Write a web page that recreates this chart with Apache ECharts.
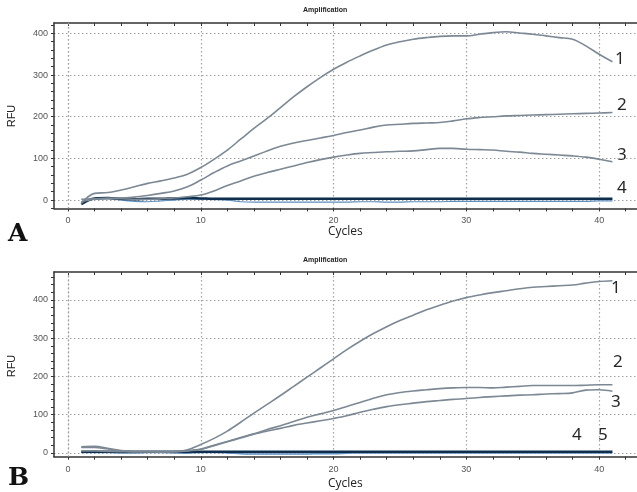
<!DOCTYPE html>
<html><head><meta charset="utf-8">
<script src="https://cdn.jsdelivr.net/npm/echarts@6/dist/echarts.min.js"></script>
<style>html,body{margin:0;padding:0;background:#fff}#c{width:637px;height:492px}</style>
</head><body><div id="c"></div>
<script>
// ---------- data ----------
const cycles = [1,2,3,4,5,6,7,8,9,10,11,12,13,14,15,16,17,18,19,20,21,22,23,24,25,26,27,28,29,30,31,32,33,34,35,36,37,38,39,40,41];

const A1 = [-8,16,18,24,32,40,46,53,62,78,98,120,146,172,196,222,248,272,294,314,331,346,360,372,380,386,390,393,394,394,398,402,404,401,398,394,390,386,370,350,332];
const A2 = [-4,2,4,5,7,11,16,22,32,48,66,82,94,106,118,129,137,143,149,155,162,168,175,180,182,184,185,186,190,195,198,200,202,203,204,205,206,207,208,209,210];
const A3 = [2,3,4,3,2,2,3,5,8,12,22,35,46,57,66,74,82,90,97,103,108,112,114,116,117,118,121,124,124,122,121,120,117,115,112,110,108,106,103,98,92];
const A4 = [-10,4,5,3,2,3,3,4,5,4,3,3,3,3,3,3,3,3,3,3,3,3,3,3,3,3,3,3,3,3,3,3,3,3,3,3,3,3,3,3,3];
const A4b = [-4,2,4,0,-3,-4,-2,0,2,2,1,0,-4,-5,-5,-5,-5,-5,-5,-5,-5,-4,-4,-5,-5,-4,-4,-4,-3,-3,-3,-3,-3,-3,-3,-3,-3,-3,-3,-2,-2];

const B1 = [14,14,10,5,3,3,3,3,8,22,38,57,80,104,127,150,174,198,222,246,270,292,312,330,346,360,374,386,397,406,413,419,424,429,433,435,437,439,444,448,450];
const B2 = [5,5,4,3,3,3,3,3,6,10,20,30,40,50,61,71,82,93,102,111,121,132,143,152,158,162,165,168,170,171,171,170,172,174,176,176,176,176,177,178,178];
const B3 = [16,17,12,6,3,3,2,3,5,9,19,29,39,49,57,64,72,78,84,90,97,106,114,121,126,130,134,137,140,142,145,147,149,151,152,154,155,157,164,165,161];
const B4 = [3,3,3,3,3,3,3,3,3,3,3,3,3,3,3,3,3,3,3,3,3,3,3,3,3,3,3,3,3,3,3,3,3,3,3,3,3,3,3,3,3];
const B5 = [1,1,1,0,0,1,1,0,-1,1,1,0,-2,-3,-3,-3,-3,-3,-2,-2,-1,0,0,0,0,0,0,0,0,0,0,0,0,0,0,0,0,0,0,0,0,0];

const xLabels = [0,10,20,30,40];
const xMinorTicks = [0,2,4,6,8,10,12,14,16,18,20,22,24,26,28,30,32,34,36,38,40,42];
const yLabelsA = [0,100,200,300,400];
const yLabelsB = [0,100,200,300,400];
const yTicksA = [-20,0,20,40,60,80,100,120,140,160,180,200,220,240,260,280,300,320,340,360,380,400,420];
const yTicksB = [0,20,40,60,80,100,120,140,160,180,200,220,240,260,280,300,320,340,360,380,400,420,440,460];
const title = 'Amplification';
const xName = 'Cycles';
const yName = 'RFU';
const seriesLabelsA = ['1','2','3','4'];
const seriesLabelsB = ['1','2','3','4','5'];

// ---------- styling ----------
const curveColor = '#7c8894';
const navy = '#0f2d4d';
const lightBlue = '#5f8fbf';
const gridColor = '#a3a3a3';
const axisColor = '#333';
const tickFont = {fontFamily:'Liberation Sans', fontSize:9, color:'#555'};

const grids = [
  {left:54, top:23, width:583, height:185.4},
  {left:54, top:272, width:583, height:184.7}
];
const xRange = [-1.054, 42.85];
const yRanges = [[-20,425],[-10,473]];
const gridLineStyle = {color:gridColor, type:[1.5,2.5], width:1.2};

const xAxis = [], yAxis = [];
grids.forEach((g, gi) => {
  xAxis.push({type:'value', gridIndex:gi, min:xRange[0], max:xRange[1], position:'bottom',
    axisLine:{show:true, onZero:false, lineStyle:{color:axisColor, width:1.5}},
    axisTick:{show:true, length:3, customValues:xMinorTicks, lineStyle:{color:axisColor}},
    axisLabel:{show:true, customValues:xLabels, margin:8, ...tickFont},
    splitLine:{show:false}});
  xAxis.push({type:'value', gridIndex:gi, min:xRange[0], max:xRange[1], position:'top',
    axisLine:{show:true, onZero:false, lineStyle:{color:axisColor, width:1.5}},
    axisTick:{show:true, inside:true, length:3, customValues:xMinorTicks, lineStyle:{color:axisColor}},
    axisLabel:{show:false}, splitLine:{show:false}});
  xAxis.push({type:'value', gridIndex:gi, min:xRange[0], max:xRange[1], position:'bottom', offset:0,
    axisLine:{show:false}, axisTick:{show:false, customValues:xLabels}, axisLabel:{show:false},
    splitLine:{show:true, showMinLine:true, showMaxLine:true, lineStyle:gridLineStyle}});
  const yl = gi===0 ? yLabelsA : yLabelsB;
  const yt = gi===0 ? yTicksA : yTicksB;
  yAxis.push({type:'value', gridIndex:gi, min:yRanges[gi][0], max:yRanges[gi][1], position:'left',
    axisLine:{show:true, onZero:false, lineStyle:{color:axisColor, width:1.5}},
    axisTick:{show:true, length:3, customValues:yt, lineStyle:{color:axisColor}},
    axisLabel:{show:true, customValues:yl, margin:6, ...tickFont},
    splitLine:{show:false}});
  yAxis.push({type:'value', gridIndex:gi, min:yRanges[gi][0], max:yRanges[gi][1], position:'left',
    axisLine:{show:false}, axisTick:{show:false, customValues:yl}, axisLabel:{show:false},
    splitLine:{show:true, showMinLine:true, showMaxLine:true, lineStyle:gridLineStyle}});
});

function mk(vals, gi, color, width, z) {
  return {type:'line', xAxisIndex:gi*3, yAxisIndex:gi*2, data:cycles.map((c,i)=>[c, vals[i]]),
    showSymbol:false, smooth:0.35, lineStyle:{color:color, width:width}, z:z||2, silent:true};
}
// vertical grid line at cycle 0 (drawn via the axis scale)
const zeroLine = {silent:true, symbol:'none', label:{show:false}, lineStyle:gridLineStyle,
  data:[{xAxis:xLabels[0]}], animation:false};

const s0 = mk(A4b, 0, lightBlue, 1.2, 2); s0.markLine = zeroLine;
const s5 = mk(B5, 1, lightBlue, 1.5, 2); s5.markLine = zeroLine;
const series = [
  s0, mk(A4, 0, navy, 2.5, 3),
  mk(A1, 0, curveColor, 1.6, 4), mk(A2, 0, curveColor, 1.6, 4), mk(A3, 0, curveColor, 1.6, 4),
  s5, mk(B4, 1, navy, 2.6, 3),
  mk(B1, 1, curveColor, 1.6, 4), mk(B2, 1, curveColor, 1.6, 4), mk(B3, 1, curveColor, 1.6, 4)
];

function txt(x, y, s, opts) {
  return {type:'text', left:x, top:y, style:Object.assign({text:s, fill:'#262626',
    font:'17px "Noto Sans"'}, opts||{})};
}
const labelPosA = [[615,51],[617,97],[617,147],[617,180]];
const labelPosB = [[611,280],[613,354],[611,394],[572,427],[598,427]];
const graphic = [];
seriesLabelsA.forEach((s,i)=>graphic.push(txt(labelPosA[i][0], labelPosA[i][1], s)));
seriesLabelsB.forEach((s,i)=>graphic.push(txt(labelPosB[i][0], labelPosB[i][1], s)));
graphic.push(txt(303, 7, title, {font:'bold 7px "Liberation Sans"', fill:'#222'}));
graphic.push(txt(303, 257, title, {font:'bold 7px "Liberation Sans"', fill:'#222'}));
graphic.push(txt(328, 226, xName, {font:'12px "Open Sans"', fill:'#222'}));
graphic.push(txt(328, 478, xName, {font:'12px "Open Sans"', fill:'#222'}));
graphic.push({type:'text', x:12, y:116, rotation:Math.PI/2, style:{text:yName, font:'11px "Liberation Sans"', fill:'#222', align:'center', verticalAlign:'middle'}});
graphic.push({type:'text', x:12, y:366, rotation:Math.PI/2, style:{text:yName, font:'11px "Liberation Sans"', fill:'#222', align:'center', verticalAlign:'middle'}});
graphic.push(txt(8, 222, 'A', {font:'bold 25px "DejaVu Serif"', fill:'#111'}));
graphic.push(txt(8, 466, 'B', {font:'bold 25px "DejaVu Serif"', fill:'#111'}));

const chart = echarts.init(document.getElementById('c'), null, {renderer:'canvas'});
chart.setOption({animation:false, backgroundColor:'#fff', grid:grids, xAxis, yAxis, series, graphic});
</script></body></html>
